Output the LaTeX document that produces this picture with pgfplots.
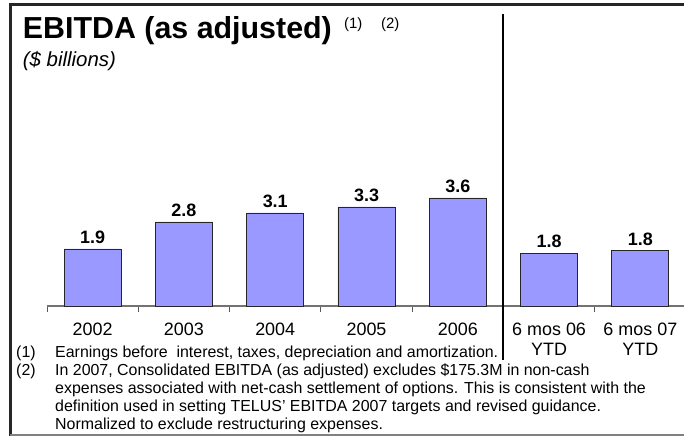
\documentclass[border=0pt]{standalone}
\usepackage{fontspec}
\setmainfont{Liberation Sans}
\usepackage{pgfplots}
\pgfplotsset{compat=1.18}
\definecolor{barfill}{RGB}{153,153,255}
\begin{document}
\begin{tikzpicture}[x=1bp,y=1bp]
\useasboundingbox (0,0) rectangle (684,436);
\begin{axis}[
  at={(47bp,130bp)}, anchor=south west,
  scale only axis, width=639bp, height=120bp,
  xmin=-0.5, xmax=6.5, ymin=0, ymax=4,
  axis x line=bottom, axis y line=none,
  axis line style={draw=black!55, line width=1.5bp, -},
  /pgf/number format/assume math mode=true,
  xtick={-0.5,0.5,1.5,2.5,3.5,4.5,5.5,6.5}, xticklabels={},
  tick style={draw=black!65, line width=1bp},
  tick align=outside, major tick length=6bp,
  extra x ticks={0,1,2,3,4,5,6},
  extra x tick labels={2002,2003,2004,2005,2006,{6 mos 06\\YTD},{6 mos 07\\YTD}},
  extra x tick style={major tick length=0pt},
  xticklabel style={font=\fontsize{18}{20}\selectfont, align=center, text=black, anchor=north, inner sep=0pt, yshift=-17bp},
  ybar, bar width=0.625,
  nodes near coords={\pgfmathprintnumber[fixed,precision=1,fixed zerofill]{\pgfplotspointmeta}},
  every node near coord/.append style={font=\bfseries\fontsize{18}{18}\selectfont, inner sep=0pt, yshift=5bp, text=black},
  clip=false,
]
\addplot[fill=barfill, draw=black!85, line width=0.8bp] coordinates {(0,1.9) (1,2.8) (2,3.1) (3,3.3) (4,3.6) (5,1.76) (6,1.84)};
\end{axis}
% frame
\draw[line width=2.7bp, black!85] (9,431.3) -- (684,431.3);
\draw[line width=2.5bp, black!85] (10.7,432.6) -- (10.7,0);
\draw[line width=1.5bp, black!50] (10,1) -- (684,1);
% divider
\draw[line width=2bp] (502.5,422) -- (502.5,76);
% titles
\node[anchor=base west, inner sep=0pt, font=\bfseries\fontsize{30.5}{32}\selectfont] at (22.7,397.7) {EBITDA (as adjusted)};
\node[anchor=base west, inner sep=0pt, font=\fontsize{15}{16}\selectfont] at (344,407) {(1)};
\node[anchor=base west, inner sep=0pt, font=\fontsize{15}{16}\selectfont] at (381,407) {(2)};
\node[anchor=base west, inner sep=0pt, font=\itshape\fontsize{20.5}{22}\selectfont] at (22.7,369) {(\$ billions)};
% footnotes
\begin{scope}[every node/.style={anchor=base west, inner sep=0pt, font=\fontsize{16}{18}\selectfont}]
\node at (16,78) {(1)};
\node at (55,78) {Earnings before~ interest, taxes, depreciation and amortization.};
\node at (16,60) {(2)};
\node at (55,60) {In 2007, Consolidated EBITDA (as adjusted) excludes \$175.3M in non-cash};
\node at (55,42) {expenses associated with net-cash settlement of options. This is consistent with the};
\node at (55,24) {definition used in setting TELUS' EBITDA 2007 targets and revised guidance.};
\node at (55,6) {Normalized to exclude restructuring expenses.};
\end{scope}
\end{tikzpicture}
\end{document}
